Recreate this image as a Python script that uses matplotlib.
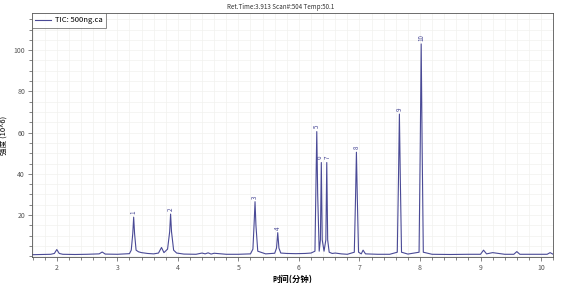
import matplotlib
matplotlib.use("Agg")
import matplotlib.pyplot as plt
from matplotlib.ticker import MultipleLocator

plt.rcParams['font.family'] = ['Noto Sans CJK SC', 'DejaVu Sans']

# chromatogram trace (time in min, intensity x10^6)
times = [1.60, 1.75, 1.90, 1.96, 2.00, 2.04, 2.10, 2.30, 2.50, 2.70, 2.75, 2.80, 3.00,
         3.20, 3.23, 3.255, 3.27, 3.285, 3.31, 3.35, 3.40, 3.50, 3.60, 3.68, 3.73, 3.77,
         3.83, 3.865, 3.88, 3.895, 3.93, 3.98, 4.10, 4.30, 4.40, 4.45, 4.50, 4.55, 4.60,
         4.80, 5.00, 5.20, 5.24, 5.26, 5.275, 5.29, 5.32, 5.45, 5.60, 5.63, 5.65, 5.67,
         5.70, 5.80, 5.95, 6.10, 6.20, 6.265, 6.28, 6.295, 6.31, 6.335, 6.355, 6.37, 6.385,
         6.415, 6.445, 6.46, 6.475, 6.50, 6.55, 6.60, 6.70, 6.80, 6.915, 6.935, 6.95, 6.965,
         6.985, 7.03, 7.06, 7.10, 7.30, 7.50, 7.625, 7.645, 7.66, 7.675, 7.695, 7.80, 7.985,
         8.005, 8.02, 8.035, 8.055, 8.20, 8.50, 8.80, 9.00, 9.05, 9.10, 9.20, 9.40, 9.55,
         9.60, 9.65, 9.80, 10.00, 10.10, 10.15, 10.20]
intensity = [0.8, 0.9, 1.0, 1.4, 3.3, 1.4, 1.0, 0.9, 1.0, 1.2, 2.1, 1.1, 1.0,
             1.3, 3.0, 11.0, 19.0, 11.0, 3.0, 2.2, 1.8, 1.4, 1.2, 1.6, 4.3, 1.8,
             3.5, 12.0, 20.5, 12.0, 3.0, 1.6, 1.1, 1.0, 1.6, 1.2, 1.7, 1.1, 1.5,
             1.0, 1.0, 1.2, 3.5, 16.0, 26.5, 15.0, 2.5, 1.2, 1.5, 4.0, 11.5, 4.0,
             1.6, 1.4, 1.3, 1.4, 1.6, 2.5, 32.0, 60.5, 30.0, 2.5, 8.0, 45.5, 8.0,
             2.5, 8.0, 45.5, 8.0, 2.0, 1.4, 1.6, 1.2, 1.0, 2.0, 28.0, 50.5, 28.0,
             2.0, 1.2, 3.0, 1.2, 1.0, 1.0, 2.0, 38.0, 69.0, 38.0, 2.0, 1.1, 2.0,
             55.0, 103.0, 55.0, 2.0, 1.0, 0.9, 1.0, 1.0, 3.0, 1.2, 1.8, 1.0, 1.0,
             2.3, 1.0, 1.0, 1.0, 1.0, 1.8, 1.0]

peak_labels = ['1', '2', '3', '4', '5', '6', '7', '8', '9', '10']
peak_times = [3.27, 3.88, 5.275, 5.65, 6.295, 6.37, 6.46, 6.95, 7.66, 8.02]
peak_heights = [19.0, 20.5, 26.5, 11.5, 60.5, 45.5, 45.5, 50.5, 69.0, 103.0]
label_shift = [0, 0, 0, 0, 0, -0.03, 0.02, 0, 0, 0]

line_col = '#4a4a96'

fig = plt.figure(figsize=(5.61, 2.83), dpi=100)
ax = fig.add_axes([0.057, 0.092, 0.929, 0.862])

ax.plot(times, intensity, color=line_col, lw=0.8, label='TIC: 500ng.ca')

for lab, t, h, dx in zip(peak_labels, peak_times, peak_heights, label_shift):
    ax.text(t + dx, h + 1.5, lab, rotation=90, ha='center', va='bottom',
            fontsize=4.5, color=line_col)

ax.set_xlim(1.59, 10.2)
ax.set_ylim(-0.3, 118)
ax.xaxis.set_major_locator(MultipleLocator(1))
ax.xaxis.set_minor_locator(MultipleLocator(0.2))
ax.yaxis.set_major_locator(MultipleLocator(20))
ax.yaxis.set_minor_locator(MultipleLocator(5))
ax.set_yticks([20, 40, 60, 80, 100])
ax.tick_params(labelsize=5, length=3, width=0.5, colors='#555555', pad=2)
ax.tick_params(which='minor', length=2, width=0.5, colors='#555555')
ax.grid(True, which='both', color='#f2f2ee', lw=0.5)
ax.set_axisbelow(True)
for s in ax.spines.values():
    s.set_linewidth(0.6)
    s.set_color('#555555')

ax.set_xlabel('时间(分钟)', fontsize=6, fontweight='bold', labelpad=2)
ax.set_ylabel('强度 (10^6)', fontsize=5.5, labelpad=4)
fig.text(0.5, 0.975, 'Ret.Time:3.913 Scan#:504 Temp:50.1', ha='center',
         va='center', fontsize=4.5, color='#333333')

leg = ax.legend(loc='upper left', fontsize=5.5, frameon=True, fancybox=False,
                borderaxespad=0, handlelength=2.0, handletextpad=0.6,
                borderpad=0.45)
leg.get_frame().set_edgecolor('#555555')
leg.get_frame().set_linewidth(0.6)

fig.savefig('out.png', dpi=100)
